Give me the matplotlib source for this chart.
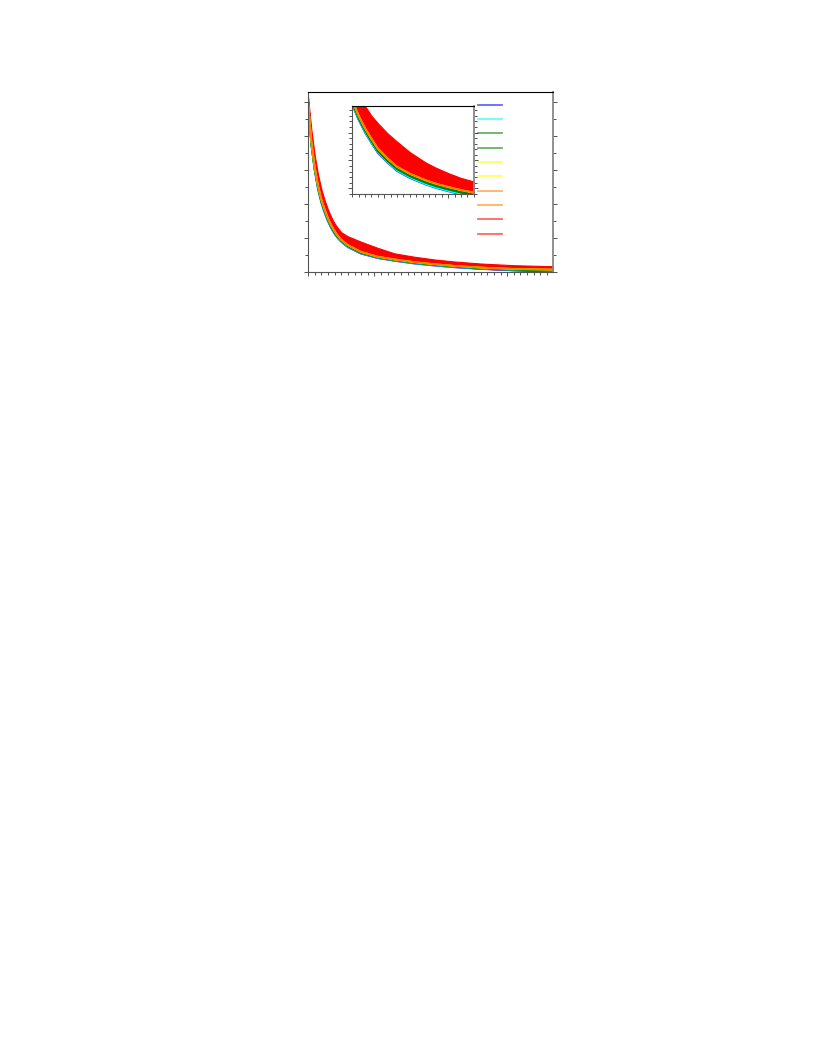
import matplotlib
matplotlib.use("Agg")
import matplotlib.pyplot as plt
from matplotlib.lines import Line2D
from matplotlib.ticker import MultipleLocator

# main panel, values
x = [0, 50, 100, 150, 200, 250, 300, 350, 400, 450, 500, 600, 800, 1050, 1300, 1600, 1900, 2200, 2600, 3100, 3690]
blue   = [5.00, 3.75, 3.00, 2.45, 2.05, 1.75, 1.50, 1.30, 1.13, 1.00, 0.90, 0.74, 0.55, 0.42, 0.34, 0.26, 0.20, 0.15, 0.10, 0.06, 0.04]
cyan   = [5.00, 3.76, 3.01, 2.46, 2.06, 1.76, 1.51, 1.31, 1.14, 1.01, 0.91, 0.75, 0.56, 0.43, 0.35, 0.27, 0.21, 0.16, 0.11, 0.07, 0.05]
green  = [5.01, 3.79, 3.04, 2.49, 2.09, 1.79, 1.54, 1.33, 1.16, 1.03, 0.93, 0.77, 0.57, 0.44, 0.36, 0.28, 0.22, 0.17, 0.12, 0.08, 0.06]
green2 = [5.02, 3.81, 3.06, 2.51, 2.11, 1.81, 1.56, 1.35, 1.18, 1.05, 0.94, 0.78, 0.58, 0.45, 0.37, 0.29, 0.23, 0.18, 0.13, 0.09, 0.07]
yellow = [5.03, 3.85, 3.10, 2.55, 2.15, 1.85, 1.59, 1.38, 1.21, 1.07, 0.96, 0.80, 0.60, 0.46, 0.38, 0.30, 0.24, 0.19, 0.14, 0.10, 0.08]
red_lo = [5.04, 3.88, 3.13, 2.58, 2.18, 1.88, 1.62, 1.41, 1.23, 1.09, 0.98, 0.82, 0.61, 0.47, 0.38, 0.30, 0.23, 0.17, 0.11, 0.06, 0.03]
red_hi = [5.15, 4.20, 3.45, 2.88, 2.45, 2.12, 1.85, 1.62, 1.44, 1.30, 1.18, 1.06, 0.90, 0.72, 0.56, 0.46, 0.38, 0.32, 0.26, 0.21, 0.18]

# inset panel
xi = [500, 600, 700, 800, 900, 1050, 1200, 1400, 1650, 1800, 2000, 2200, 2400]
blue_i   = [0.800, 0.690, 0.600, 0.525, 0.455, 0.385, 0.325, 0.275, 0.228, 0.205, 0.180, 0.158, 0.140]
cyan_i   = [0.805, 0.693, 0.603, 0.528, 0.460, 0.388, 0.328, 0.278, 0.230, 0.207, 0.182, 0.160, 0.142]
green_i  = [0.812, 0.702, 0.612, 0.537, 0.467, 0.397, 0.337, 0.287, 0.240, 0.217, 0.192, 0.170, 0.152]
green2_i = [0.820, 0.710, 0.620, 0.545, 0.475, 0.405, 0.345, 0.295, 0.248, 0.225, 0.200, 0.178, 0.160]
yellow_i = [0.830, 0.720, 0.630, 0.555, 0.485, 0.415, 0.355, 0.305, 0.258, 0.235, 0.210, 0.188, 0.170]
red_lo_i = [0.840, 0.730, 0.640, 0.565, 0.495, 0.425, 0.365, 0.315, 0.265, 0.242, 0.215, 0.192, 0.150]
red_hi_i = [0.950, 0.880, 0.790, 0.720, 0.667, 0.595, 0.535, 0.460, 0.385, 0.350, 0.310, 0.275, 0.250]

colors = ["#0000ff", "#00ffff", "#008000", "#008000", "#ffff00", "#ffff00",
          "#ff8000", "#ff8000", "#ff0000", "#ff0000"]

fig = plt.figure(figsize=(8.16, 10.56), dpi=100)
ax = fig.add_axes([0.3775, 0.7421, 0.3002, 0.1705])
ins = fig.add_axes([0.4317, 0.8163, 0.1488, 0.0833])

lw = 1.3
panels = [(ax, x, [blue, cyan, green, green2, yellow], red_lo, red_hi),
          (ins, xi, [blue_i, cyan_i, green_i, green2_i, yellow_i], red_lo_i, red_hi_i)]
for a, xs, ys, lo, hi in panels:
    for c, y in zip(colors[:5], ys):
        a.plot(xs, y, color=c, lw=lw)
    # orange curves sit under the red band
    a.plot(xs, ys[-1], color=colors[6], lw=lw)
    a.fill_between(xs, lo, hi, color="#ff0000", lw=0.8, edgecolor="#ff0000")

ax.set_xlim(0, 3690)
ax.set_ylim(0, 5.3)
ax.xaxis.set_major_locator(MultipleLocator(1000))
ax.xaxis.set_minor_locator(MultipleLocator(100))
ax.yaxis.set_major_locator(MultipleLocator(1))
ax.yaxis.set_minor_locator(MultipleLocator(0.5))

ins.set_xlim(500, 2400)
ins.set_ylim(0.16, 0.79)
ins.xaxis.set_major_locator(MultipleLocator(1000))
ins.xaxis.set_minor_locator(MultipleLocator(100))
ins.yaxis.set_major_locator(MultipleLocator(0.2))
ins.yaxis.set_minor_locator(MultipleLocator(0.04))

for a in (ax, ins):
    a.tick_params(which="both", labelleft=False, labelbottom=False, direction="out",
                  right=True, width=0.6, color="#333333")
    a.tick_params(which="major", length=3)
    a.tick_params(which="minor", length=2)
    for s in ("left", "bottom"):
        a.spines[s].set_color("#555555")
    a.spines["right"].set_color("#888888")
    a.spines["right"].set_linewidth(1.3)
    a.spines["top"].set_color("black")

handles = [Line2D([], [], color=c, lw=1.3, alpha=0.6) for c in colors]
ax.legend(handles, [""] * 10, loc="upper left", bbox_to_anchor=(0.695, 0.957),
          frameon=False, fontsize=7, handlelength=2.4, labelspacing=0.445,
          borderpad=0, borderaxespad=0, handletextpad=0.3)

fig.savefig("out.png", dpi=100)
